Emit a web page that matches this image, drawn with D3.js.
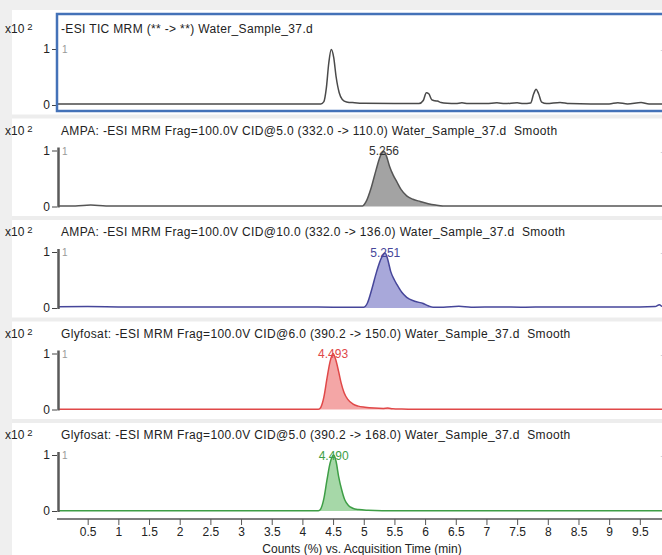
<!DOCTYPE html>
<html>
<head>
<meta charset="utf-8">
<script src="https://cdn.jsdelivr.net/npm/d3@7"></script>
<style>
  body { margin: 0; background: #efefef; }
  svg { display: block; font-family: "Liberation Sans", Arial, sans-serif; }
  .title { white-space: pre; }
</style>
</head>
<body>
<div id="chart"></div>
<script>
// --- data ---
const titles = [
  "-ESI TIC MRM (** -> **) Water_Sample_37.d",
  "AMPA: -ESI MRM Frag=100.0V CID@5.0 (332.0 -> 110.0) Water_Sample_37.d  Smooth",
  "AMPA: -ESI MRM Frag=100.0V CID@10.0 (332.0 -> 136.0) Water_Sample_37.d  Smooth",
  "Glyfosat: -ESI MRM Frag=100.0V CID@6.0 (390.2 -> 150.0) Water_Sample_37.d  Smooth",
  "Glyfosat: -ESI MRM Frag=100.0V CID@5.0 (390.2 -> 168.0) Water_Sample_37.d  Smooth"
]
const peakLabels = [null, "5.256", "5.251", "4.493", "4.490"]
const peakApex = [null, 5.33, 5.35, 4.5, 4.51]
const peakStart = [null, 4.98, 5.0, 4.26, 4.26]
const peakEnd = [null, 6.29, 6.13, 5.6, 5.3]
const xTicks = [0.5,1,1.5,2,2.5,3,3.5,4,4.5,5,5.5,6,6.5,7,7.5,8,8.5,9,9.5]
const yTicks = [0, 1]

const ticTimes  = [0,0.5,1,1.5,2,2.5,3,3.5,4,4.3,4.35,4.39,4.43,4.47,4.51,4.55,4.6,4.65,4.72,4.85,5,5.5,5.9,5.97,6.02,6.06,6.11,6.16,6.2,6.26,6.36,6.5,6.6,6.7,7,7.17,7.3,7.5,7.6,7.72,7.77,7.81,7.85,7.9,7.98,8.2,8.35,8.7,9,9.14,9.3,9.52,9.65,10]
const ticCounts = [0.02,0.02,0.02,0.02,0.02,0.02,0.02,0.02,0.02,0.02,0.06,0.3,0.75,0.99,0.85,0.5,0.22,0.1,0.055,0.04,0.03,0.025,0.025,0.08,0.22,0.2,0.09,0.075,0.07,0.045,0.03,0.025,0.04,0.025,0.025,0.04,0.025,0.04,0.025,0.035,0.2,0.28,0.2,0.05,0.025,0.045,0.025,0.02,0.02,0.04,0.02,0.045,0.02,0.02]

const ampa110Times  = [0,0.3,0.55,0.8,1.5,2.5,3.5,4.5,4.98,5.04,5.12,5.2,5.27,5.33,5.37,5.42,5.48,5.54,5.61,5.7,5.8,5.92,6.05,6.17,6.29,6.6,7,8,9,10]
const ampa110Counts = [0.01,0.01,0.025,0.01,0.008,0.008,0.008,0.008,0.01,0.09,0.33,0.65,0.9,0.98,0.9,0.72,0.56,0.44,0.3,0.19,0.13,0.09,0.05,0.025,0.01,0.01,0.008,0.008,0.01,0.01]

const ampa136Times  = [0,0.5,1,1.5,2,2.5,3,3.5,4,4.5,5,5.06,5.13,5.21,5.29,5.35,5.39,5.44,5.5,5.54,5.62,5.7,5.83,5.97,6.05,6.13,6.3,6.55,6.75,7.2,7.6,8,8.5,9,9.5,9.75,9.82,9.86,10]
const ampa136Counts = [0.02,0.025,0.02,0.018,0.02,0.018,0.02,0.018,0.02,0.015,0.015,0.09,0.33,0.65,0.9,0.98,0.87,0.65,0.5,0.42,0.28,0.19,0.12,0.08,0.04,0.015,0.015,0.03,0.015,0.02,0.015,0.02,0.018,0.02,0.02,0.025,0.06,0.03,0.02]

const glyf150Times  = [0,1,2,3,4,4.26,4.3,4.35,4.4,4.45,4.5,4.54,4.59,4.63,4.68,4.74,4.82,4.91,5.02,5.17,5.32,5.39,5.47,5.62,5.82,7,8.5,10]
const glyf150Counts = [0.003,0.003,0.003,0.003,0.003,0.003,0.04,0.22,0.55,0.85,1,0.9,0.68,0.48,0.3,0.18,0.1,0.06,0.04,0.025,0.02,0.025,0.015,0.008,0.004,0.003,0.003,0.003]

const glyf168Times  = [0,1,2,3,4,4.26,4.3,4.35,4.4,4.45,4.51,4.55,4.59,4.64,4.69,4.75,4.82,4.92,5.07,5.3,6,7,8.5,10]
const glyf168Counts = [0.003,0.003,0.003,0.003,0.003,0.003,0.04,0.22,0.55,0.85,1.0,0.88,0.62,0.38,0.2,0.1,0.05,0.025,0.012,0.005,0.004,0.004,0.004,0.004]

const traces = [
  [ticTimes, ticCounts],
  [ampa110Times, ampa110Counts],
  [ampa136Times, ampa136Counts],
  [glyf150Times, glyf150Counts],
  [glyf168Times, glyf168Counts]
]
const strokes = ["#4a4a4a", "#555", "#46469a", "#e04848", "#3e9e46"]
const fills = [null, "#a3a3a3", "#a8a8da", "#f4a6a6", "#a6d8a8"]
const labelColors = ["#333", "#333", "#46469a", "#e04848", "#3e9e46"]

const W = 662, H = 555
const PANEL_STEP = 101.5
const FIRST_TOP = 14

const svg = d3.select("#chart").append("svg")
  .attr("width", W).attr("height", H)

svg.append("rect").attr("width", W).attr("height", H).attr("fill", "#efefef")
svg.append("rect").attr("x", 12).attr("y", 10).attr("width", W - 12).attr("height", H - 10).attr("fill", "#fff")

const x = d3.scaleLinear().domain([0, 10]).range([57, 670.5])

traces.forEach((tr, i) => {
  const top = FIRST_TOP + i * PANEL_STEP
  const y = d3.scaleLinear().domain([0, 1]).range([top + 91, top + 35])
  const g = svg.append("g")

  if (i > 0) {
    g.append("rect").attr("x", 12).attr("y", top - 1).attr("width", W - 12).attr("height", 4).attr("fill", "#ededed")
  }

  // clip
  const cid = "clip" + i
  svg.append("clipPath").attr("id", cid).append("rect")
    .attr("x", 58).attr("y", top + 2).attr("width", W - 58).attr("height", 96)

  const pts = tr[0].map((t, k) => [t, tr[1][k]])
  const plot = g.append("g").attr("clip-path", `url(#${cid})`)

  if (fills[i]) {
    const seg = pts.filter(p => p[0] >= peakStart[i] && p[0] <= peakEnd[i])
    plot.append("path")
      .attr("d", d3.area().x(d => x(d[0])).y0(y(0)).y1(d => y(d[1])).curve(d3.curveMonotoneX)(seg))
      .attr("fill", fills[i])
  }
  plot.append("path")
    .attr("d", d3.line().x(d => x(d[0])).y(d => y(d[1])).curve(d3.curveMonotoneX)(pts))
    .attr("fill", "none").attr("stroke", strokes[i]).attr("stroke-width", 1.5)

  // title
  g.append("text").attr("class", "title").attr("x", 61).attr("y", top + 19)
    .attr("font-size", 12).attr("letter-spacing", 0.35).attr("fill", "#222").text(titles[i])
  // x10^2
  const ex = g.append("text").attr("x", 5).attr("y", top + 19).attr("font-size", 12).attr("fill", "#222")
  ex.append("tspan").text("x10")
  ex.append("tspan").attr("dx", 3).attr("dy", -3).attr("font-size", 9.5).text("2")

  // y axis
  const yAxis = g.append("g").attr("transform", "translate(57,0)")
    .call(d3.axisLeft(y).tickValues(yTicks).tickSize(5).tickPadding(2).tickFormat(d3.format("d")))
  yAxis.select(".domain").remove()
  yAxis.selectAll("line").attr("stroke", "#444")
  yAxis.selectAll("text").attr("font-size", 12).attr("fill", "#222").attr("font-family", "Liberation Sans, Arial, sans-serif")

  if (i === 0) {
    g.append("rect").attr("x", 57).attr("y", top).attr("width", W).attr("height", 97)
      .attr("fill", "none").attr("stroke", "#4472b8").attr("stroke-width", 2.5)
  } else {
    g.append("line").attr("x1", 58.5).attr("x2", 58.5).attr("y1", y(1) - 3).attr("y2", y(0) + 1)
      .attr("stroke", "#5a5a5a").attr("stroke-width", 2.5)
  }

  // small gray scan marker
  g.append("text").attr("x", 62).attr("y", y(1) + 4).attr("font-size", 10).attr("fill", "#999").text("1")
  g.append("text").attr("x", 660).attr("y", y(1) + 4).attr("font-size", 8).attr("fill", "#aaa").text("·")

  if (peakLabels[i]) {
    g.append("text").attr("x", x(peakApex[i])).attr("y", top + 39.5)
      .attr("text-anchor", "middle").attr("font-size", 12).attr("fill", labelColors[i])
      .text(peakLabels[i])
  }
})

// bottom x axis
const axisY = FIRST_TOP + 4 * PANEL_STEP + 99
const xAxis = svg.append("g").attr("transform", `translate(0,${axisY})`)
  .call(d3.axisBottom(x).tickValues(xTicks).tickSize(6).tickPadding(2).tickFormat(d3.format("~g")))
xAxis.select(".domain").attr("d", `M57,0H${W}`).attr("stroke", "#555").attr("stroke-width", 1.5)
xAxis.selectAll("line").attr("stroke", "#555")
xAxis.selectAll("text").attr("font-size", 12).attr("fill", "#222").attr("font-family", "Liberation Sans, Arial, sans-serif")

svg.append("text").attr("x", 362).attr("y", 553).attr("text-anchor", "middle")
  .attr("font-size", 12).attr("fill", "#222").text("Counts (%) vs. Acquisition Time (min)")
</script>
</body>
</html>
